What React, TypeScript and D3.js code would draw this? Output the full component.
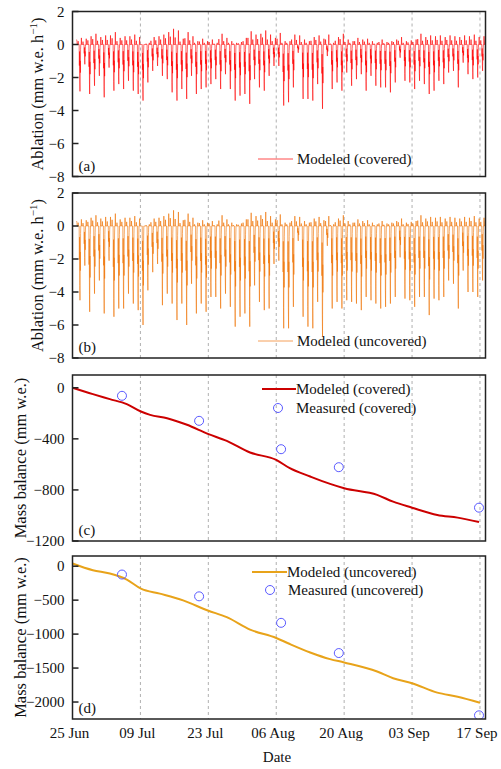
import React from "react";
import * as d3 from "d3";

// ---------- data ----------
// daily ablation minima (mm w.e. h^-1), one per day from 26 Jun
const covMin = [
  -2.84, -1.2, -3.0, -2.5, -1.9, -3.2, -1.4, -2.8, -2.4, -2.7, -2.2, -2.8, -3.0, -3.4, -2.3, -1.6, -1.3, -1.9, -2.1, -2.9,
  -3.4, -2.7, -3.3, -1.9, -3.0, -2.7, -2.6, -2.4, -2.1, -2.7, -1.8, -2.7, -3.4, -3.1, -3.0, -3.6, -2.1, -2.6, -2.8, -1.9, -1.3,
  -1.3, -3.7, -3.5, -2.6, -0.5, -3.3, -3.3, -3.4, -2.4, -3.9, -0.7, -2.7, -2.3, -2.8, -1.7, -2.5, -2.1, -1.8, -2.8, -1.9,
  -2.5, -2.6, -2.6, -2.9, -2.3, -0.8, -2.2, -2.3, -2.7, -2.2, -2.4, -3.0, -2.8, -2.2, -2.4, -1.7, -1.6, -2.6, -1.1, -1.8,
  -2.1, -2.0, -1.6,
];
const uncMin = [
  -4.5, -2.4, -5.2, -4.1, -3.3, -5.3, -2.1, -5.5, -5.0, -5.0, -4.1, -4.7, -5.1, -6.0, -3.9, -2.8, -2.3, -4.8, -4.1, -4.7,
  -5.7, -4.7, -6.0, -3.5, -5.3, -4.7, -5.2, -4.3, -4.3, -5.0, -4.1, -4.9, -6.1, -5.5, -5.3, -6.1, -3.6, -4.6, -5.1, -5.0, -2.3,
  -2.1, -6.2, -6.2, -4.9, -0.9, -5.5, -6.1, -6.2, -4.6, -6.7, -1.2, -5.0, -4.6, -5.0, -4.5, -4.6, -4.7, -5.1, -4.3, -4.5,
  -4.7, -5.0, -4.9, -4.7, -4.3, -1.9, -4.4, -4.5, -4.9, -4.3, -4.3, -5.4, -4.4, -4.5, -4.3, -3.3, -3.5, -5.0, -2.7, -4.0,
  -4.0, -4.3, -3.3,
];
// daily positive maxima (condensation), same days
const dailyMax = [
  0.4, 0.35, 0.5, 0.65, 0.45, 0.55, 0.55, 0.75, 0.4, 0.5, 0.5, 0.6, 0.45, 0.0, 0.1, 0.45, 0.5, 0.6, 0.75, 0.95,
  0.85, 0.35, 0.75, 0.5, 0.2, 0.35, 0.2, 0.3, 0.1, 0.65, 0.4, 0.2, 0.1, 0.15, 0.4, 0.8, 0.6, 0.65, 0.85, 0.6, 0.4,
  0.7, 0.2, 0.2, 0.6, 0.55, 0.3, 0.2, 0.45, 0.55, 0.35, 0.6, 0.1, 0.45, 0.65, 0.3, 0.2, 0.4, 0.3, 0.35, 0.2,
  0.1, 0.3, 0.15, 0.2, 0.3, 0.45, 0.2, 0.25, 0.3, 0.65, 0.45, 0.55, 0.5, 0.55, 0.45, 0.55, 0.5, 0.45, 0.55, 0.5,
  0.6, 0.45, 0.5,
];

// cumulative mass balance (days since 25 Jun)
const modDays = [0, 4.2, 7.7, 11.2, 14.1, 16, 19.5, 23.6, 27.9, 31.8, 36.6, 42, 44.8, 49, 53.1, 56, 62.8, 66.1, 70, 75.2, 79.4, 83.8];
const modCovered = [0, -50, -89, -128, -186, -212, -238, -290, -361, -416, -507, -565, -630, -695, -753, -787, -839, -892, -939, -996, -1017, -1051];
const modDaysU = [0, 4.2, 7.7, 11.2, 14.1, 18, 22.8, 27.9, 31.8, 36.6, 42, 44.8, 49, 53.1, 56, 62.8, 66.1, 70, 75.2, 79.4, 84];
const modUncovered = [40, -59, -108, -197, -330, -404, -504, -652, -751, -933, -1057, -1146, -1270, -1368, -1417, -1551, -1649, -1723, -1862, -1921, -2010];
const measDays = [10.2, 26.1, 43, 54.9, 83.8];
const measCovered = [-63, -259, -481, -622, -939];
const measUncovered = [-123, -444, -834, -1279, -2196];

const tickDays = [0, 14, 28, 42, 56, 70, 84];
const ablTicks = [2, 0, -2, -4, -6, -8];
const covTicks = [0, -400, -800, -1200];
const uncTicks = [0, -500, -1000, -1500, -2000];

// ---------- helpers ----------
const T0 = new Date(2019, 5, 25).getTime();
const DAY = 864e5;
const dt = (d: number) => new Date(T0 + d * DAY);
const fmt = d3.timeFormat("%d %b");

const x = d3.scaleTime().domain([dt(0), dt(85.14)]).range([72.5, 485.5]);

function hourly(mins: number[]) {
  const pts: [number, number][] = [[0.85, 0.3], [0.92, 0.2], [0.97, 0]];
  mins.forEach((mn, i) => {
    const p = dailyMax[i] ?? 0.3;
    const shape: [number, number][] = [
      [0, 0], [3, 0], [4, p * 0.5], [5, 0], [9, 0], [10, mn * 0.45], [11, mn * 0.15],
      [12, mn * 0.8], [13, mn], [14, mn * 0.35], [15, mn * 0.6], [16, mn * 0.1], [17, 0], [19, 0], [20, p], [21, 0],
    ];
    shape.forEach(([h, v]) => pts.push([1 + i + h / 24, v]));
  });
  pts.push([85, 0], [85.1, 0.3]);
  return pts;
}

const FONT = "'Liberation Serif', 'Times New Roman', serif";
const L = 72.5, R = 485.5;

type PanelProps = {
  top: number; bottom: number; domain: [number, number]; ticks: number[];
  label: string; children: (y: d3.ScaleLinear<number, number>) => React.ReactNode;
  ylabel: React.ReactNode; xlabels?: boolean;
};

const minus = (v: number) => (v < 0 ? "\u2212" + Math.abs(v) : String(v));

function Panel({ top, bottom, domain, ticks, label, children, ylabel, xlabels }: PanelProps) {
  const y = d3.scaleLinear().domain(domain).range([bottom, top]);
  const id = "clip" + label.replace(/\W/g, "");
  return (
    <g>
      <defs>
        <clipPath id={id}>
          <rect x={L} y={top} width={R - L} height={bottom - top} />
        </clipPath>
      </defs>
      {tickDays.slice(1).map((d) => (
        <line key={d} x1={x(dt(d))} x2={x(dt(d))} y1={top} y2={bottom} stroke="#b0b0b0" strokeWidth={1} strokeDasharray="3,3" />
      ))}
      <g clipPath={`url(#${id})`}>{children(y)}</g>
      <rect x={L} y={top} width={R - L} height={bottom - top} fill="none" stroke="#222" strokeWidth={1.5} />
      {ticks.map((t) => (
        <g key={t}>
          <line x1={L} x2={L + 6} y1={y(t)} y2={y(t)} stroke="#222" strokeWidth={1.5} />
          <text x={L - 8} y={y(t) + 5} textAnchor="end" fontSize={15} fontFamily={FONT} fill="#111">{minus(t)}</text>
        </g>
      ))}
      <text x={L + 6} y={bottom - 6} fontSize={15} fontFamily={FONT} fill="#111">{label}</text>
      {ylabel}
      {xlabels &&
        tickDays.map((d) => (
          <text key={d} x={x(dt(d)) - 3} y={738} textAnchor="middle" fontSize={15} fontFamily={FONT} fill="#111">{fmt(dt(d))}</text>
        ))}
    </g>
  );
}

export default function App() {
  const covPts = hourly(covMin);
  const uncPts = hourly(uncMin);
  const blue = "#5a5aff";
  return (
    <svg width={501} height={769} style={{ position: "absolute", left: 0, top: 0, background: "#fff" }}>
      {/* (a) */}
      <Panel top={11.5} bottom={176.5} domain={[-8, 2]} ticks={ablTicks} label="(a)"
        ylabel={
          <text transform="translate(43,94) rotate(-90)" textAnchor="middle" fontSize={16.5} fontFamily={FONT} fill="#111">
            Ablation (mm w.e. h<tspan dy={-6} fontSize={11}>−1</tspan><tspan dy={6}>)</tspan>
          </text>
        }>
        {(y) => (
          <path d={d3.line<[number, number]>().x((p) => x(dt(p[0]))).y((p) => y(p[1]))(covPts) || ""} fill="none" stroke="#ff0000" strokeOpacity={0.6} strokeWidth={1} />
        )}
      </Panel>
      <line x1={258} x2={293} y1={159} y2={159} stroke="#ff4d4d" strokeWidth={1} />
      <text x={297} y={164} fontSize={15} fontFamily={FONT} fill="#111">Modeled (covered)</text>

      {/* (b) */}
      <Panel top={193} bottom={358} domain={[-8, 2]} ticks={ablTicks} label="(b)"
        ylabel={
          <text transform="translate(43,275.5) rotate(-90)" textAnchor="middle" fontSize={16.5} fontFamily={FONT} fill="#111">
            Ablation (mm w.e. h<tspan dy={-6} fontSize={11}>−1</tspan><tspan dy={6}>)</tspan>
          </text>
        }>
        {(y) => (
          <path d={d3.line<[number, number]>().x((p) => x(dt(p[0]))).y((p) => y(p[1]))(uncPts) || ""} fill="none" stroke="#f07a10" strokeOpacity={0.65} strokeWidth={1} />
        )}
      </Panel>
      <line x1={258} x2={293} y1={341} y2={341} stroke="#f5a05a" strokeWidth={1} />
      <text x={297} y={346} fontSize={15} fontFamily={FONT} fill="#111">Modeled (uncovered)</text>

      {/* (c) */}
      <Panel top={375} bottom={541} domain={[-1200, 100]} ticks={covTicks} label="(c)"
        ylabel={
          <text transform="translate(26,458) rotate(-90)" textAnchor="middle" fontSize={16.5} fontFamily={FONT} fill="#111">Mass balance (mm w.e.)</text>
        }>
        {(y) => (
          <g>
            <path d={d3.line<number>().x((d) => x(dt(d))).y((_, i) => y(modCovered[i])).curve(d3.curveMonotoneX)(modDays) || ""} fill="none" stroke="#cc0000" strokeWidth={2} />
            {measDays.map((d, i) => (
              <circle key={i} cx={x(dt(d))} cy={y(measCovered[i])} r={4.5} fill="none" stroke={blue} strokeWidth={1} />
            ))}
          </g>
        )}
      </Panel>
      <line x1={262} x2={296} y1={389} y2={389} stroke="#cc0000" strokeWidth={2} />
      <text x={296} y={394} fontSize={15} fontFamily={FONT} fill="#111">Modeled (covered)</text>
      <circle cx={278} cy={408} r={4.5} fill="none" stroke={blue} strokeWidth={1} />
      <text x={296} y={413} fontSize={15} fontFamily={FONT} fill="#111">Measured (covered)</text>

      {/* (d) */}
      <Panel top={556} bottom={719} domain={[-2250, 150]} ticks={uncTicks} label="(d)" xlabels
        ylabel={
          <text transform="translate(26,637.5) rotate(-90)" textAnchor="middle" fontSize={16.5} fontFamily={FONT} fill="#111">Mass balance (mm w.e.)</text>
        }>
        {(y) => (
          <g>
            <path d={d3.line<number>().x((d) => x(dt(d))).y((_, i) => y(modUncovered[i])).curve(d3.curveMonotoneX)(modDaysU) || ""} fill="none" stroke="#e8a31a" strokeWidth={2} />
            {measDays.map((d, i) => (
              <circle key={i} cx={x(dt(d))} cy={y(measUncovered[i])} r={4.5} fill="none" stroke={blue} strokeWidth={1} />
            ))}
          </g>
        )}
      </Panel>
      <line x1={252} x2={287} y1={572} y2={572} stroke="#e8a31a" strokeWidth={2} />
      <text x={287} y={577} fontSize={15} fontFamily={FONT} fill="#111">Modeled (uncovered)</text>
      <circle cx={270} cy={590} r={4.5} fill="none" stroke={blue} strokeWidth={1} />
      <text x={288} y={595} fontSize={15} fontFamily={FONT} fill="#111">Measured (uncovered)</text>

      <text x={277} y={762} textAnchor="middle" fontSize={15} fontFamily={FONT} fill="#111">Date</text>
    </svg>
  );
}
